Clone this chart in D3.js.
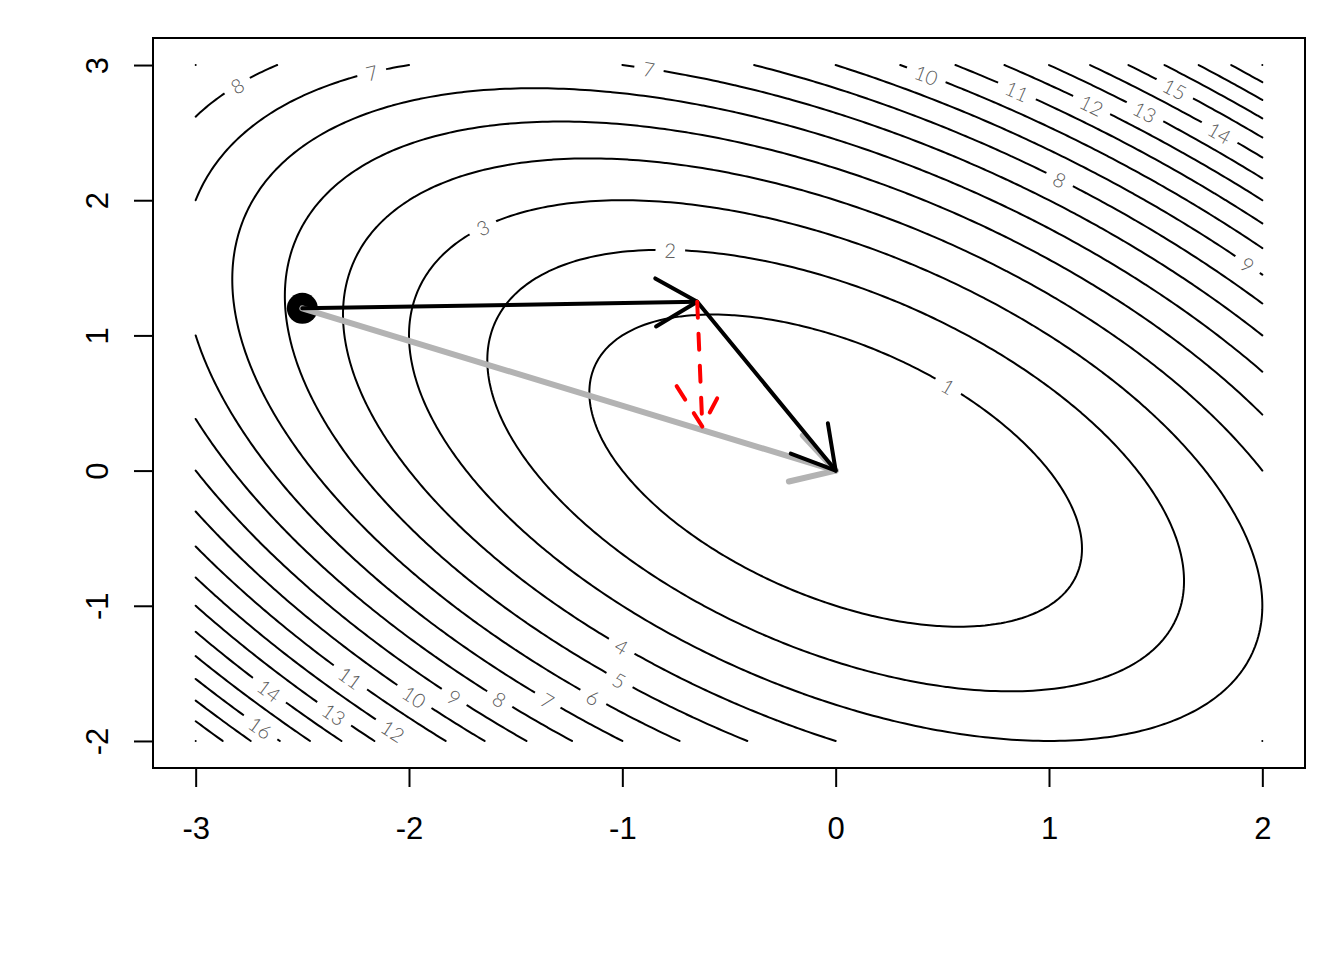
<!DOCTYPE html>
<html><head><meta charset="utf-8">
<script src="https://cdn.jsdelivr.net/npm/d3@7"></script>
<style>html,body{margin:0;padding:0;background:#fff;} svg{display:block}</style>
</head><body><svg id="c" width="1344" height="960"></svg>
<script>
// ---------- data ----------
const xTicks = [-3, -2, -1, 0, 1, 2];
const yTicks = [-2, -1, 0, 1, 2, 3];
const xRange = [-3, 2];
const yRange = [-2, 3];
// surface f(x,y) = a*x^2 + b*x*y + c*y^2
const quadCoef = [1, 1, 1];
const levels = [1, 2, 3, 4, 5, 6, 7, 8, 9, 10, 11, 12, 13, 14, 15, 16, 17, 18, 19];
// contour label spots (level, approximate x, y in data units)
const labelLevel = [8, 7, 7, 10, 11, 12, 13, 15, 14, 8, 9, 3, 2, 1, 4, 5, 6, 7, 8, 9, 10, 11, 12, 13, 14, 16];
const labelX = [-2.808, -2.173, -0.877, 0.425, 0.848, 1.195, 1.449, 1.579, 1.788, 1.040, 1.934, -1.657, -0.763, 0.531,
                -1.013, -1.013, -1.138, -1.354, -1.579, -1.787, -1.985, -2.280, -2.076, -2.361, -2.663, -2.689];
const labelY = [2.844, 2.939, 2.970, 2.919, 2.802, 2.704, 2.647, 2.820, 2.513, 2.165, 1.519, 1.795, 1.617, 0.622,
                -1.304, -1.556, -1.684, -1.684, -1.691, -1.684, -1.674, -1.536, -1.926, -1.790, -1.617, -1.913];
const startPoint = [-2.5, 1.2];
const descentPoint = [-0.649, 1.249];
const gradientEnd = [-0.625, 0.325];
const minimumPoint = [0, 0];

// ---------- setup ----------
const svg = d3.select("#c");
const x = d3.scaleLinear().domain([-3.2, 2.2]).range([153, 1305]);
const y = d3.scaleLinear().domain([-2.2, 3.2]).range([768, 38]);

// ---------- contour geometry via d3.contours ----------
const n = 201;
const vals = new Float64Array(n * n);
for (let j = 0; j < n; j++) {
  const yy = yRange[0] + (yRange[1] - yRange[0]) * j / (n - 1);
  for (let i = 0; i < n; i++) {
    const xx = xRange[0] + (xRange[1] - xRange[0]) * i / (n - 1);
    vals[j * n + i] = quadCoef[0] * xx * xx + quadCoef[1] * xx * yy + quadCoef[2] * yy * yy;
  }
}
const cs = d3.contours().size([n, n]).thresholds(levels)(vals);
const toData = p => [xRange[0] + (p[0] - 0.5) * (xRange[1] - xRange[0]) / (n - 1),
                     yRange[0] + (p[1] - 0.5) * (yRange[1] - yRange[0]) / (n - 1)];
const eps = 1e-9;
const isB = p => p[0] <= eps || p[0] >= n - eps || p[1] <= eps || p[1] >= n - eps;
const lines = [];
cs.forEach(c => {
  c.coordinates.forEach(poly => poly.forEach(ring => {
    const pts = ring.slice(0, -1);
    const bi = pts.findIndex(isB);
    if (bi < 0) { lines.push({level: c.value, pts: pts.map(toData), closed: true}); return; }
    const rot = pts.slice(bi).concat(pts.slice(0, bi));
    let cur = [];
    const flush = () => {
      if (cur.length) {
        let d = cur.map(toData);
        if (d.length === 1) d = [d[0], d[0]];
        lines.push({level: c.value, pts: d, closed: false});
      }
      cur = [];
    };
    rot.forEach(p => { if (isB(p)) flush(); else cur.push(p); });
    flush();
  }));
});

const lineGen = d3.line().x(p => x(p[0])).y(p => y(p[1]));
const lineGenClosed = d3.line().x(p => x(p[0])).y(p => y(p[1])).curve(d3.curveLinearClosed);

const defs = svg.append("defs");
const gC = svg.append("g");
const gL = svg.append("g");

// ---------- labels (snap to contour) ----------
const labels = labelLevel.map((lv, k) => {
  const px = x(labelX[k]), py = y(labelY[k]);
  let best = null, bd = Infinity;
  lines.filter(l => l.level === lv).forEach(l => {
    l.pts.forEach((p, i) => {
      const d = (x(p[0]) - px) ** 2 + (y(p[1]) - py) ** 2;
      if (d < bd) { bd = d; best = {l, i}; }
    });
  });
  const P = best.l.pts, m = P.length;
  const get = i => best.l.closed ? P[(i + m) % m] : P[Math.max(0, Math.min(m - 1, i))];
  const a0 = get(best.i - 2), a1 = get(best.i + 2), c0 = P[best.i];
  let ang = Math.atan2(y(a1[1]) - y(a0[1]), x(a1[0]) - x(a0[0])) * 180 / Math.PI;
  if (ang > 90) ang -= 180;
  if (ang < -90) ang += 180;
  return {lv, X: x(c0[0]), Y: y(c0[1]), ang};
});

labels.forEach(L => {
  const t = gL.append("text")
    .attr("transform", `translate(${L.X},${L.Y}) rotate(${L.ang})`)
    .attr("text-anchor", "middle")
    .attr("dominant-baseline", "central")
    .attr("font-family", "Lato, 'Liberation Sans', sans-serif")
    .attr("font-weight", 300)
    .attr("font-size", 20)
    .attr("fill", "#5a5a5a")
    .text(String(L.lv));
  L.w = t.node().getComputedTextLength();
});

// masks per level
const maskOf = {};
levels.forEach(lv => {
  const ls = labels.filter(L => L.lv === lv);
  if (!ls.length) return;
  const m = defs.append("mask").attr("id", "m" + lv)
    .attr("maskUnits", "userSpaceOnUse").attr("x", 0).attr("y", 0).attr("width", 1344).attr("height", 960);
  m.append("rect").attr("x", 0).attr("y", 0).attr("width", 1344).attr("height", 960).attr("fill", "#fff");
  ls.forEach(L => {
    const w = L.w + 18;
    m.append("rect").attr("x", -w / 2).attr("y", -9).attr("width", w).attr("height", 18)
      .attr("transform", `translate(${L.X},${L.Y}) rotate(${L.ang})`).attr("fill", "#000");
  });
  maskOf[lv] = "url(#m" + lv + ")";
});

gC.selectAll("path").data(lines).join("path")
  .attr("d", l => l.closed ? lineGenClosed(l.pts) : lineGen(l.pts))
  .attr("fill", "none").attr("stroke", "#000").attr("stroke-width", 2)
  .attr("stroke-linecap", "round").attr("stroke-linejoin", "round")
  .attr("mask", l => maskOf[l.level] || null);

// ---------- axes ----------
const xAxis = svg.append("g").attr("transform", "translate(0,768)")
  .call(d3.axisBottom(x).tickValues(xTicks).tickSize(19).tickFormat(d => String(d)));
const yAxis = svg.append("g").attr("transform", "translate(153,0)")
  .call(d3.axisLeft(y).tickValues(yTicks).tickSize(19).tickFormat(d => String(d)));
[xAxis, yAxis].forEach(a => {
  a.select(".domain").remove();
  a.selectAll(".tick line").attr("stroke", "#000").attr("stroke-width", 2);
  a.selectAll(".tick text").attr("fill", "#000")
    .attr("font-family", "'Liberation Sans', Arial, sans-serif").attr("font-size", 31);
});
xAxis.selectAll(".tick text").attr("y", 71).attr("dy", 0);
yAxis.selectAll(".tick text").attr("x", 0).attr("y", 0).attr("dy", 0)
  .attr("text-anchor", "middle").attr("transform", "translate(-45,0) rotate(-90)");

svg.append("rect").attr("x", 153).attr("y", 38).attr("width", 1152).attr("height", 730)
  .attr("fill", "none").attr("stroke", "#000").attr("stroke-width", 2);

// ---------- point and arrows ----------
svg.append("circle").attr("cx", x(startPoint[0])).attr("cy", y(startPoint[1])).attr("r", 15.5).attr("fill", "#000");

function arrow(p0, p1, color, width, dash) {
  const X0 = x(p0[0]), Y0 = y(p0[1]), X1 = x(p1[0]), Y1 = y(p1[1]);
  const g = svg.append("g").attr("fill", "none").attr("stroke", color).attr("stroke-width", width)
    .attr("stroke-linecap", "round").attr("stroke-linejoin", "round");
  if (dash) g.attr("stroke-dasharray", dash);
  g.append("path").attr("d", `M${X0},${Y0}L${X1},${Y1}`);
  const ang = Math.atan2(Y1 - Y0, X1 - X0), L = 48, phi = Math.PI / 6;
  const b1 = [X1 - L * Math.cos(ang - phi), Y1 - L * Math.sin(ang - phi)];
  const b2 = [X1 - L * Math.cos(ang + phi), Y1 - L * Math.sin(ang + phi)];
  g.append("path").attr("d", `M${b1[0]},${b1[1]}L${X1},${Y1}L${b2[0]},${b2[1]}`);
}
arrow(startPoint, minimumPoint, "#B3B3B3", 6, null);
arrow(startPoint, descentPoint, "#000", 4, null);
arrow(descentPoint, minimumPoint, "#000", 4, null);
arrow(descentPoint, gradientEnd, "#FF0000", 4, "16,16");
</script></body></html>
